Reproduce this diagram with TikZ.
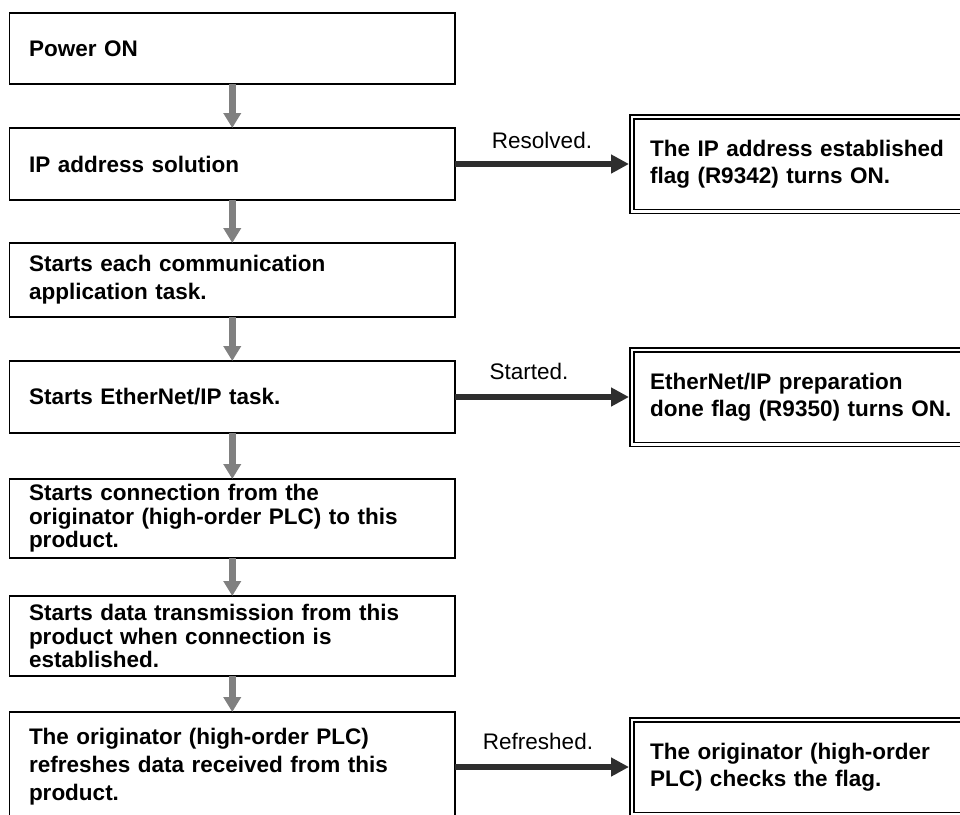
\documentclass[tikz,border=0pt]{standalone}
\usepackage{fontspec}
\setmainfont{Liberation Sans}
\usetikzlibrary{positioning,arrows.meta}

\begin{document}
\begin{tikzpicture}[font=\fontsize{22.5}{28}\selectfont,
  stepbox/.style={draw=black,line width=1.2pt,align=left,
    font=\bfseries\fontsize{22.5}{28}\selectfont,
    text width=406.5pt,inner xsep=19.5pt,inner ysep=0pt,outer sep=0pt},
  flagbox/.style={draw=black,double=white,double distance=2.5pt,line width=1.5pt,
    align=left,font=\bfseries\fontsize{22.5}{27}\selectfont,
    text width=330pt,inner xsep=18.25pt,inner ysep=0pt,outer sep=2.75pt,
    minimum height=94.5pt},
  flow/.style={draw=gray,line width=6.5pt,-{Triangle[length=15pt,width=17pt]}},
  go/.style={draw=black!82,line width=6pt,-{Triangle[length=18pt,width=18pt]}},
  lbl/.style={midway,anchor=base,yshift=18pt}]
  \useasboundingbox (0,0) rectangle (960pt,-814pt);
  % main flow
  \node[stepbox,anchor=north west,minimum height=71pt] (p1) at (9.5pt,-13pt) {Power ON};
  \node[stepbox,below=44pt of p1,minimum height=72pt] (p2) {IP address solution};
  \node[stepbox,below=43pt of p2,minimum height=74pt] (p3) {Starts each communication\\application task.};
  \node[stepbox,below=44pt of p3,minimum height=72pt] (p4) {Starts EtherNet/IP task.};
  \node[stepbox,below=46pt of p4,minimum height=79pt,
    font=\bfseries\fontsize{22.5}{23.5}\selectfont] (p5)
    {Starts connection from the\\originator (high-order PLC) to this\\product.};
  \node[stepbox,below=38pt of p5,minimum height=80pt,
    font=\bfseries\fontsize{22.5}{23.5}\selectfont] (p6)
    {Starts data transmission from this\\product when connection is\\established.};
  \node[stepbox,below=36pt of p6,minimum height=110pt] (p7)
    {The originator (high-order PLC)\\refreshes data received from this\\product.};
  \foreach \a/\b in {p1/p2,p2/p3,p3/p4,p4/p5,p5/p6,p6/p7}
    \draw[flow] (\a) -- (\b);
  % flags
  \node[flagbox,right=174pt of p2] (r1) {The IP address established\\flag (R9342) turns ON.};
  \node[flagbox,right=174pt of p4] (r2) {EtherNet/IP preparation\\done flag (R9350) turns ON.};
  \node[flagbox,right=174pt of p7] (r3) {The originator (high-order\\PLC) checks the flag.};
  \draw[go] (p2) -- (r1) node[lbl,yshift=-2pt] {Resolved.};
  \draw[go] (p4) -- (r2) node[lbl,xshift=-13pt] {Started.};
  \draw[go] (p7) -- (r3) node[lbl,xshift=-4pt] {Refreshed.};
\end{tikzpicture}
\end{document}
